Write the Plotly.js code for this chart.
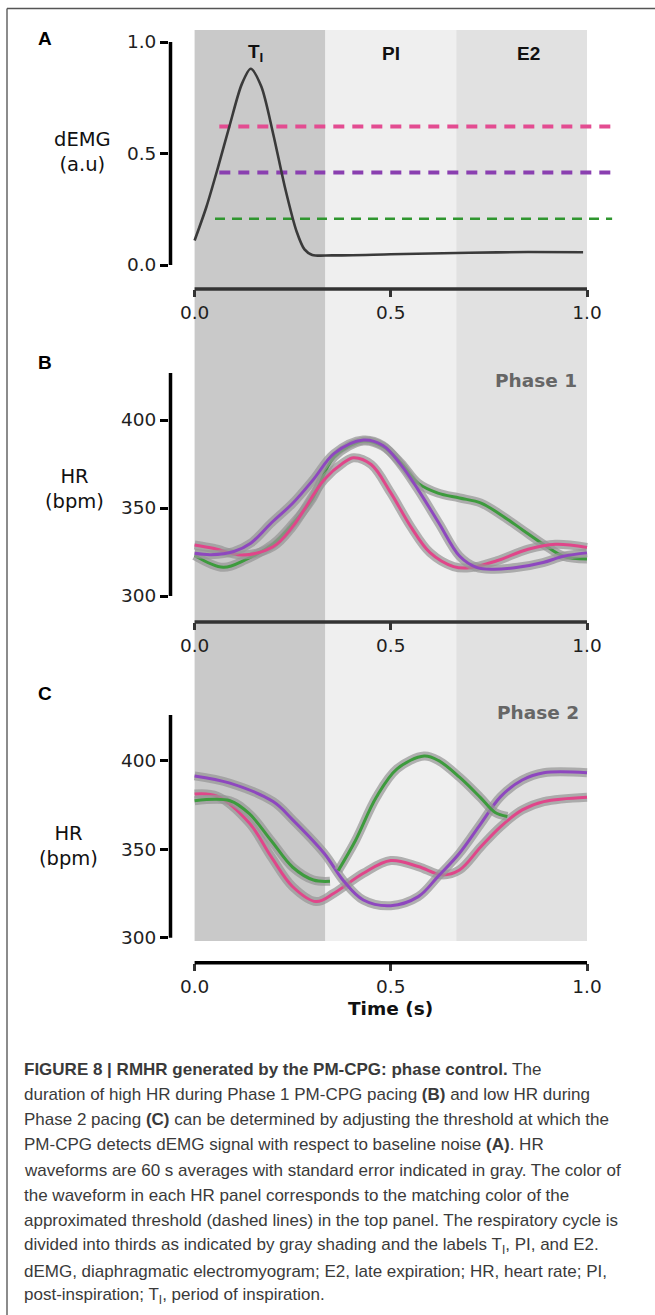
<!DOCTYPE html>
<html>
<head>
<meta charset="utf-8">
<script src="https://cdn.plot.ly/plotly-3.0.1.min.js"></script>
<style>html,body{margin:0;padding:0;background:#fff;}#chart{width:655px;height:1315px;}</style>
</head>
<body>
<div id="chart"></div>
<script>
// ---------- DATA ----------
const tickVals = [0, 0.5, 1];
const tickText = ['0.0', '0.5', '1.0'];
const demgTicks = [0, 0.5, 1];
const demgTickText = ['0.0', '0.5', '1.0'];
const hrTicks = [300, 350, 400];

// Panel A: dEMG trace
const demgX = [0, 0.03, 0.06, 0.09, 0.12, 0.143, 0.17, 0.2, 0.23, 0.26, 0.28, 0.3, 0.35, 0.5, 0.7, 0.85, 0.99];
const demgY = [0.11, 0.26, 0.44, 0.63, 0.81, 0.88, 0.80, 0.59, 0.35, 0.15, 0.07, 0.045, 0.043, 0.048, 0.055, 0.058, 0.057];

// Panel A: thresholds
const thrPinkX = [0.063, 1.071];  const thrPinkY = [0.621, 0.621];
const thrPurpleX = [0.063, 1.071]; const thrPurpleY = [0.415, 0.415];
const thrGreenX = [0.052, 1.064]; const thrGreenY = [0.207, 0.207];

// Panel B (Phase 1)
const bGreenX = [0, 0.073, 0.13, 0.2, 0.25, 0.3, 0.356, 0.43, 0.48, 0.526, 0.57, 0.62, 0.675, 0.73, 0.78, 0.835, 0.89, 0.94, 1.0];
const bGreenY = [323, 316.3, 320.6, 329.6, 341, 355.2, 379, 388, 385, 375.5, 364, 358.5, 355.7, 352.8, 346.2, 337.7, 329.2, 322.6, 321];
const bPurpleX = [0, 0.042, 0.1, 0.143, 0.196, 0.25, 0.302, 0.356, 0.43, 0.48, 0.526, 0.569, 0.622, 0.675, 0.718, 0.76, 0.824, 0.888, 0.94, 1.0];
const bPurpleY = [324.3, 323.5, 325.3, 330, 341.6, 352.7, 366, 381, 388.6, 385.5, 374.5, 360.6, 341.6, 322.7, 316.3, 315.2, 316.3, 319, 322.6, 324.5];
const bPinkX = [0, 0.05, 0.12, 0.2, 0.25, 0.33, 0.38, 0.405, 0.45, 0.5, 0.55, 0.6, 0.66, 0.7, 0.77, 0.85, 0.92, 1.0];
const bPinkY = [329, 327, 323.3, 328, 339.4, 366, 375.8, 378.6, 374.7, 358.6, 339.7, 324.6, 316.7, 316, 320, 326.6, 329.4, 327.6];

// Panel C (Phase 2)
const cGreenX = [0, 0.09, 0.14, 0.195, 0.25, 0.303, 0.345, null, 0.366, 0.41, 0.463, 0.516, 0.585, 0.622, 0.675, 0.728, 0.765, 0.797];
const cGreenY = [377.4, 377.4, 369.9, 354.9, 339.8, 332.6, 331.9, null, 337.9, 354.9, 379.3, 395.4, 402.6, 400, 390.7, 379.3, 370.9, 368.5];
const cPurpleX = [0, 0.09, 0.2, 0.25, 0.33, 0.38, 0.43, 0.5, 0.57, 0.62, 0.675, 0.73, 0.78, 0.835, 0.89, 1.0];
const cPurpleY = [391.4, 387.3, 376.9, 366.6, 347.7, 332, 321.3, 318.1, 323.2, 334.5, 347.7, 364.6, 379.7, 389.1, 393.2, 393.2];
const cPinkX = [0, 0.057, 0.14, 0.195, 0.25, 0.31, 0.355, 0.43, 0.5, 0.57, 0.63, 0.675, 0.73, 0.78, 0.835, 0.89, 1.0];
const cPinkY = [381.2, 380, 364.6, 345.8, 328.8, 320.4, 325.1, 336.4, 343.6, 340.2, 335.5, 338.3, 351.5, 362.8, 372.2, 376.9, 379.4];

// Phase bands (thirds of the cycle)
const bandEdges = [0, 1/3, 2/3, 1];
const bandColors = ['#c9c9c9', '#efefef', '#e1e1e1'];
const phaseLabels = ['T<sub>I</sub>', 'PI', 'E2'];
const phaseLabelX = [0.155, 0.5, 0.85];

const captionLines = [
  '<b>FIGURE 8 | RMHR generated by the PM-CPG: phase control.</b> The',
  'duration of high HR during Phase 1 PM-CPG pacing <b>(B)</b> and low HR during',
  'Phase 2 pacing <b>(C)</b> can be determined by adjusting the threshold at which the',
  'PM-CPG detects dEMG signal with respect to baseline noise <b>(A)</b>. HR',
  'waveforms are 60 s averages with standard error indicated in gray. The color of',
  'the waveform in each HR panel corresponds to the matching color of the',
  'approximated threshold (dashed lines) in the top panel. The respiratory cycle is',
  'divided into thirds as indicated by gray shading and the labels T<sub>I</sub>, PI, and E2.',
  'dEMG, diaphragmatic electromyogram; E2, late expiration; HR, heart rate; PI,',
  'post-inspiration; T<sub>I</sub>, period of inspiration.'
];

// ---------- LAYOUT HELPERS ----------
const W = 655, H = 1315;
const px = v => v / W;
const py = v => 1 - v / H;
const FONT = 'DejaVu Sans, Liberation Sans, Arial, sans-serif';
const CAPFONT = 'Liberation Sans, Arial, Helvetica, sans-serif';
const GREEN = '#3d9b3d', PURPLE = '#8e47bf', PINK = '#e0468a';
const BAND = 'rgba(150,150,150,0.72)';

const xDomain = [px(169), px(620)];
const xRange = [-25.6 / 392.4, (620 - 194.6) / 392.4];

function xAxis(anchor) {
  return {
    domain: xDomain, range: xRange, anchor: anchor,
    showgrid: false, zeroline: false, showline: false,
    tickvals: tickVals, ticktext: tickText,
    ticks: 'outside', ticklen: 7, tickwidth: 3, tickcolor: '#333',
    tickfont: {family: FONT, size: 18.5, color: '#1e1e1e'}, fixedrange: true
  };
}
function yAxis(anchor, domain, range, tv, tt) {
  return {
    domain: domain, range: range, anchor: anchor,
    showgrid: false, zeroline: false, showline: false,
    tickvals: tv, ticktext: tt,
    ticks: 'outside', ticklen: 8, tickwidth: 3, tickcolor: '#000',
    tickfont: {family: FONT, size: 18.5, color: '#1e1e1e'}, fixedrange: true
  };
}

function hrTraces(x, y, color, xa, ya) {
  return [
    {x: x, y: y, xaxis: xa, yaxis: ya, type: 'scatter', mode: 'lines', connectgaps: false,
     line: {color: BAND, width: 9, shape: 'spline', smoothing: 1}, hoverinfo: 'skip'},
    {x: x, y: y, xaxis: xa, yaxis: ya, type: 'scatter', mode: 'lines', connectgaps: false,
     line: {color: color, width: 3, shape: 'spline', smoothing: 1}}
  ];
}

const traces = [
  {x: thrGreenX, y: thrGreenY, xaxis: 'x', yaxis: 'y', mode: 'lines', line: {color: '#2f962f', width: 2.5, dash: '10px,7px'}},
  {x: thrPurpleX, y: thrPurpleY, xaxis: 'x', yaxis: 'y', mode: 'lines', line: {color: '#8a3fb0', width: 4, dash: '11px,8px'}},
  {x: thrPinkX, y: thrPinkY, xaxis: 'x', yaxis: 'y', mode: 'lines', line: {color: '#e34c91', width: 4, dash: '11px,8px'}},
  {x: demgX, y: demgY, xaxis: 'x', yaxis: 'y', mode: 'lines', line: {color: '#3a3a3a', width: 2.6, shape: 'spline', smoothing: 0.8}},
  ...hrTraces(bGreenX, bGreenY, GREEN, 'x2', 'y2'),
  ...hrTraces(bPinkX, bPinkY, PINK, 'x2', 'y2'),
  ...hrTraces(bPurpleX, bPurpleY, PURPLE, 'x2', 'y2'),
  ...hrTraces(cPinkX, cPinkY, PINK, 'x3', 'y3'),
  ...hrTraces(cPurpleX, cPurpleY, PURPLE, 'x3', 'y3'),
  ...hrTraces(cGreenX, cGreenY, GREEN, 'x3', 'y3')
];

const shapes = [];
// frame
shapes.push({type: 'line', xref: 'paper', yref: 'paper', x0: px(7), x1: px(7), y0: py(8.5), y1: py(1315), line: {color: '#666', width: 1.5}});
shapes.push({type: 'line', xref: 'paper', yref: 'paper', x0: px(7), x1: 1, y0: py(8.5), y1: py(8.5), line: {color: '#555', width: 1.5}});
// phase shading
for (let i = 0; i < 3; i++) {
  shapes.push({type: 'rect', xref: 'x', yref: 'paper', x0: bandEdges[i], x1: bandEdges[i + 1],
    y0: py(941), y1: py(30), fillcolor: bandColors[i], line: {width: 0}, layer: 'below'});
}
// y-axis lines
const yLineX = px(170.5);
shapes.push({type: 'line', xref: 'paper', yref: 'y', x0: yLineX, x1: yLineX, y0: 0, y1: 1, line: {color: '#000', width: 3.5}});
shapes.push({type: 'line', xref: 'paper', yref: 'y2', x0: yLineX, x1: yLineX, y0: 300, y1: 426.7, line: {color: '#000', width: 3.5}});
shapes.push({type: 'line', xref: 'paper', yref: 'y3', x0: yLineX, x1: yLineX, y0: 300, y1: 425.8, line: {color: '#000', width: 3.5}});
// x-axis lines
shapes.push({type: 'line', xref: 'x', yref: 'paper', x0: 0, x1: 1, y0: py(289), y1: py(289), line: {color: '#333', width: 3.5}});
shapes.push({type: 'line', xref: 'x', yref: 'paper', x0: 0, x1: 1, y0: py(622), y1: py(622), line: {color: '#333', width: 3.5}});
shapes.push({type: 'line', xref: 'x', yref: 'paper', x0: 0, x1: 1, y0: py(962.7), y1: py(962.7), line: {color: '#000', width: 3.5}});

const ann = [];
function txt(text, x, y, opts) {
  ann.push(Object.assign({text: text, xref: 'paper', yref: 'paper', x: px(x), y: py(y),
    showarrow: false, xanchor: 'center', yanchor: 'middle',
    font: {family: FONT, size: 16, color: '#111'}}, opts || {}));
}
txt('<b>A</b>', 45, 38, {font: {family: CAPFONT, size: 19, color: '#000'}});
txt('<b>B</b>', 45, 362, {font: {family: CAPFONT, size: 19, color: '#000'}});
txt('<b>C</b>', 45, 693, {font: {family: CAPFONT, size: 19, color: '#000'}});
for (let i = 0; i < 3; i++) {
  ann.push({text: '<b>' + phaseLabels[i] + '</b>', xref: 'x', yref: 'paper', x: phaseLabelX[i], y: py(53),
    showarrow: false, xanchor: 'center', yanchor: 'middle', font: {family: CAPFONT, size: 19, color: '#111'}});
}
txt('dEMG<br>(a.u)', 82, 152, {font: {family: FONT, size: 19.5, color: '#111'}});
txt('HR<br>(bpm)', 74, 489, {font: {family: FONT, size: 19.5, color: '#111'}});
txt('HR<br>(bpm)', 68, 846, {font: {family: FONT, size: 19.5, color: '#111'}});
txt('<b>Phase 1</b>', 579, 380, {xanchor: 'right', font: {family: FONT, size: 18.5, color: '#666'}});
txt('<b>Phase 2</b>', 581, 712, {xanchor: 'right', font: {family: FONT, size: 18.5, color: '#666'}});
txt('<b>Time (s)</b>', 391, 1008, {font: {family: FONT, size: 18.5, color: '#111'}});
for (let i = 0; i < captionLines.length; i++) {
  txt(captionLines[i], 22, 1069 + 25.25 * i, {xanchor: 'left',
    font: {family: CAPFONT, size: 17, color: '#3a3a3a'}});
}

const layout = {
  width: W, height: H, margin: {l: 0, r: 0, t: 0, b: 0},
  paper_bgcolor: '#fff', plot_bgcolor: 'rgba(0,0,0,0)', showlegend: false,
  xaxis: xAxis('y'), xaxis2: xAxis('y2'), xaxis3: xAxis('y3'),
  yaxis: yAxis('x', [py(289), py(30)], [-24 / 223, 235 / 223], demgTicks, demgTickText),
  yaxis2: yAxis('x2', [py(622), py(373)], [300 - 26 / 1.76, 300 + 223 / 1.76], hrTicks, hrTicks.map(String)),
  yaxis3: yAxis('x3', [py(962.7), py(715)], [300 - 25 / 1.77, 300 + 222.7 / 1.77], hrTicks, hrTicks.map(String)),
  shapes: shapes, annotations: ann
};

Plotly.newPlot('chart', traces, layout, {staticPlot: true, displayModeBar: false});
</script>
</body>
</html>
